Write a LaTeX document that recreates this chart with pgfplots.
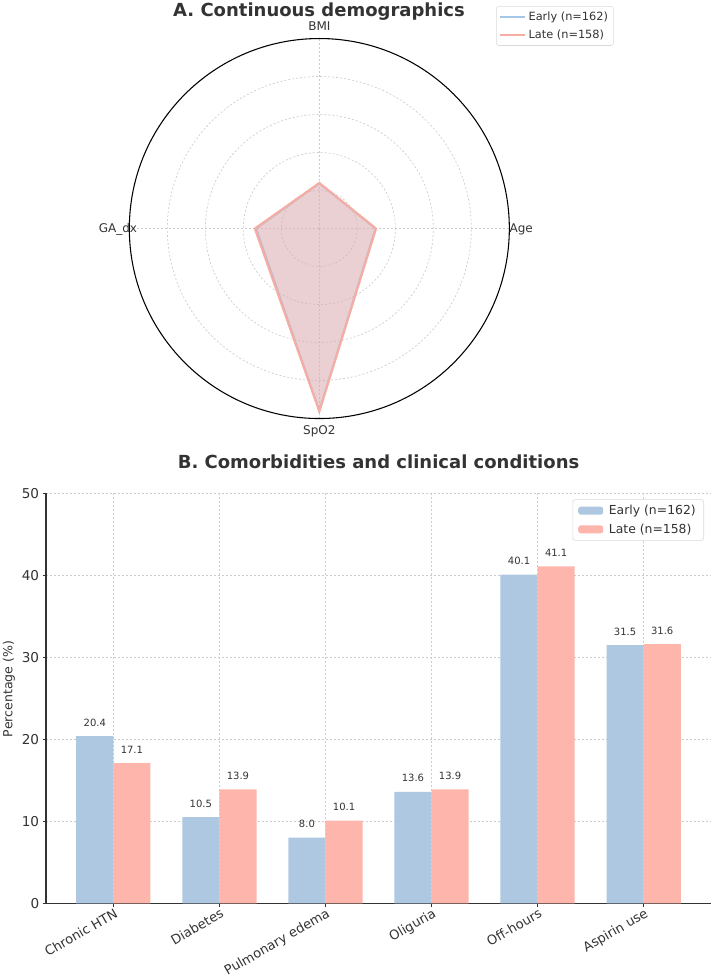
\documentclass[border=0pt]{standalone}
\usepackage{fontspec}
\setmainfont{DejaVu Sans}
\usepackage{pgfplots}
\usepgfplotslibrary{polar}
\pgfplotsset{compat=1.18}
\pgfplotsset{/pgf/number format/assume math mode=true}

\definecolor{earlyC}{HTML}{AEC8E2}
\definecolor{lateC}{HTML}{FDB5AC}
\definecolor{earlyL}{HTML}{A6C6E6}
\definecolor{lateL}{HTML}{F8ADA2}
\definecolor{lateF}{HTML}{F0A0A0}
\definecolor{txt}{HTML}{333333}
\definecolor{gridC}{HTML}{CCCCCC}

\begin{document}
\begin{tikzpicture}
\useasboundingbox (0,0) rectangle (536.25pt,733.5pt);

% ---------- Panel A: radar of continuous demographics ----------
\node[anchor=base, font=\bfseries\fontsize{13.5}{16}\selectfont, text=txt]
  at (239.25pt,720.9pt) {A. Continuous demographics};

\begin{polaraxis}[
  at={(239.5pt,562.1pt)}, anchor=center,
  width=285pt, height=285pt, scale only axis,
  clip=false,
  ymin=0, ymax=100,
  xtick={0,90,180,270}, xticklabels={},
  ytick={20,40,60,80}, yticklabels={},
  extra y ticks={100}, extra y tick labels={},
  extra y tick style={grid=major, major grid style={solid, black, line width=0.8pt}},
  major tick length=0pt,
  grid=major,
  major grid style={gridC, dash pattern=on 1.5pt off 1.5pt, line width=0.5pt},
  axis line style={draw=none},
  legend style={
    at={(axis description cs:0.965,1.0855)}, anchor=north west,
    draw=black!15, rounded corners=2pt, fill=white,
    font=\fontsize{8.5}{10}\selectfont, text=txt,
    cells={anchor=west}, row sep=1.5pt,
    inner xsep=2pt, inner ysep=2pt},
  legend image code/.code={\draw[#1, line width=1.5pt] (0pt,0pt) -- (18.75pt,0pt);},
]
\addplot[earlyL, line width=1.5pt, fill=earlyC, fill opacity=0.3]
  coordinates {(0,29.6) (90,23.8) (180,33.3) (270,96.0) (360,29.6)};
\addlegendentry{Early (n=162)}
\addplot[lateL, line width=1.5pt, fill=lateF, fill opacity=0.4]
  coordinates {(0,29.9) (90,24.0) (180,34.0) (270,96.3) (360,29.9)};
\addlegendentry{Late (n=158)}

\node[anchor=base, inner sep=0pt, yshift=6pt, text=txt, font=\fontsize{9}{11}\selectfont]
  at (axis cs:90,100) {BMI};
\node[anchor=north, inner sep=0pt, yshift=-5.25pt, text=txt, font=\fontsize{9}{11}\selectfont]
  at (axis cs:270,100) {SpO2};
\node[anchor=base west, inner sep=0pt, yshift=-3.2pt, text=txt, font=\fontsize{9}{11}\selectfont]
  at (axis cs:0,100) {Age};
\node[anchor=base east, inner sep=0pt, xshift=6pt, yshift=-3.2pt, text=txt, font=\fontsize{9}{11}\selectfont]
  at (axis cs:180,100) {GA\_dx};
\end{polaraxis}

% ---------- Panel B: comorbidities bar chart ----------
\node[anchor=base, font=\bfseries\fontsize{13.5}{16}\selectfont, text=txt]
  at (283.9pt,382.1pt) {B. Comorbidities and clinical conditions};

\begin{axis}[
  at={(34.5pt,56pt)}, anchor=south west,
  width=498.75pt, height=307.5pt, scale only axis,
  xmin=-0.635, xmax=5.635, ymin=0, ymax=50,
  axis lines*=left,
  axis line style={txt, line width=0.9pt},
  ybar, bar width=0.35,
  xtick={0,1,2,3,4,5},
  xticklabels={Chronic HTN, Diabetes, Pulmonary edema, Oliguria, Off-hours, Aspirin use},
  ytick={0,10,20,30,40,50},
  tick align=outside, major tick length=2.6pt,
  tick style={txt, line width=0.7pt},
  xticklabel style={rotate=30, anchor=north east, inner sep=0pt, text=txt,
                    yshift=-0.5pt, font=\fontsize{9.8}{12}\selectfont},
  yticklabel style={text=txt, xshift=1pt, font=\fontsize{10.2}{12}\selectfont},
  grid=major,
  major grid style={gridC, dash pattern=on 1.5pt off 1.5pt, line width=0.5pt},
  ylabel={Percentage (\%)},
  ylabel style={at={(axis description cs:-0.0556,0.5227)}, anchor=center,
                text=txt, font=\fontsize{9.4}{11}\selectfont},
  legend style={
    at={(rel axis cs:0.9895,0.9854)}, anchor=north east,
    draw=black!15, rounded corners=2pt, fill=white,
    font=\fontsize{9.3}{11}\selectfont, text=txt,
    cells={anchor=west}, row sep=1.5pt,
    inner xsep=4pt, inner ysep=2pt},
  legend image code/.code={\fill[#1] (0pt,-3pt) rectangle (18.75pt,3pt); \path (21pt,0pt);},
  nodes near coords={\pgfmathprintnumber[fixed,fixed zerofill,precision=1]{\pgfplotspointmeta}},
  every node near coord/.append style={anchor=base, inner sep=0pt, yshift=7.5pt,
                                text=txt, font=\fontsize{7.5}{9}\selectfont},
]
\addplot[fill=earlyC, draw=none, bar shift=-0.175]
  coordinates {(0,20.4) (1,10.5) (2,8.0) (3,13.6) (4,40.1) (5,31.5)};
\addlegendentry{Early (n=162)}
\addplot[fill=lateC, draw=none, bar shift=0.175]
  coordinates {(0,17.1) (1,13.9) (2,10.1) (3,13.9) (4,41.1) (5,31.6)};
\addlegendentry{Late (n=158)}
\end{axis}
\end{tikzpicture}
\end{document}
